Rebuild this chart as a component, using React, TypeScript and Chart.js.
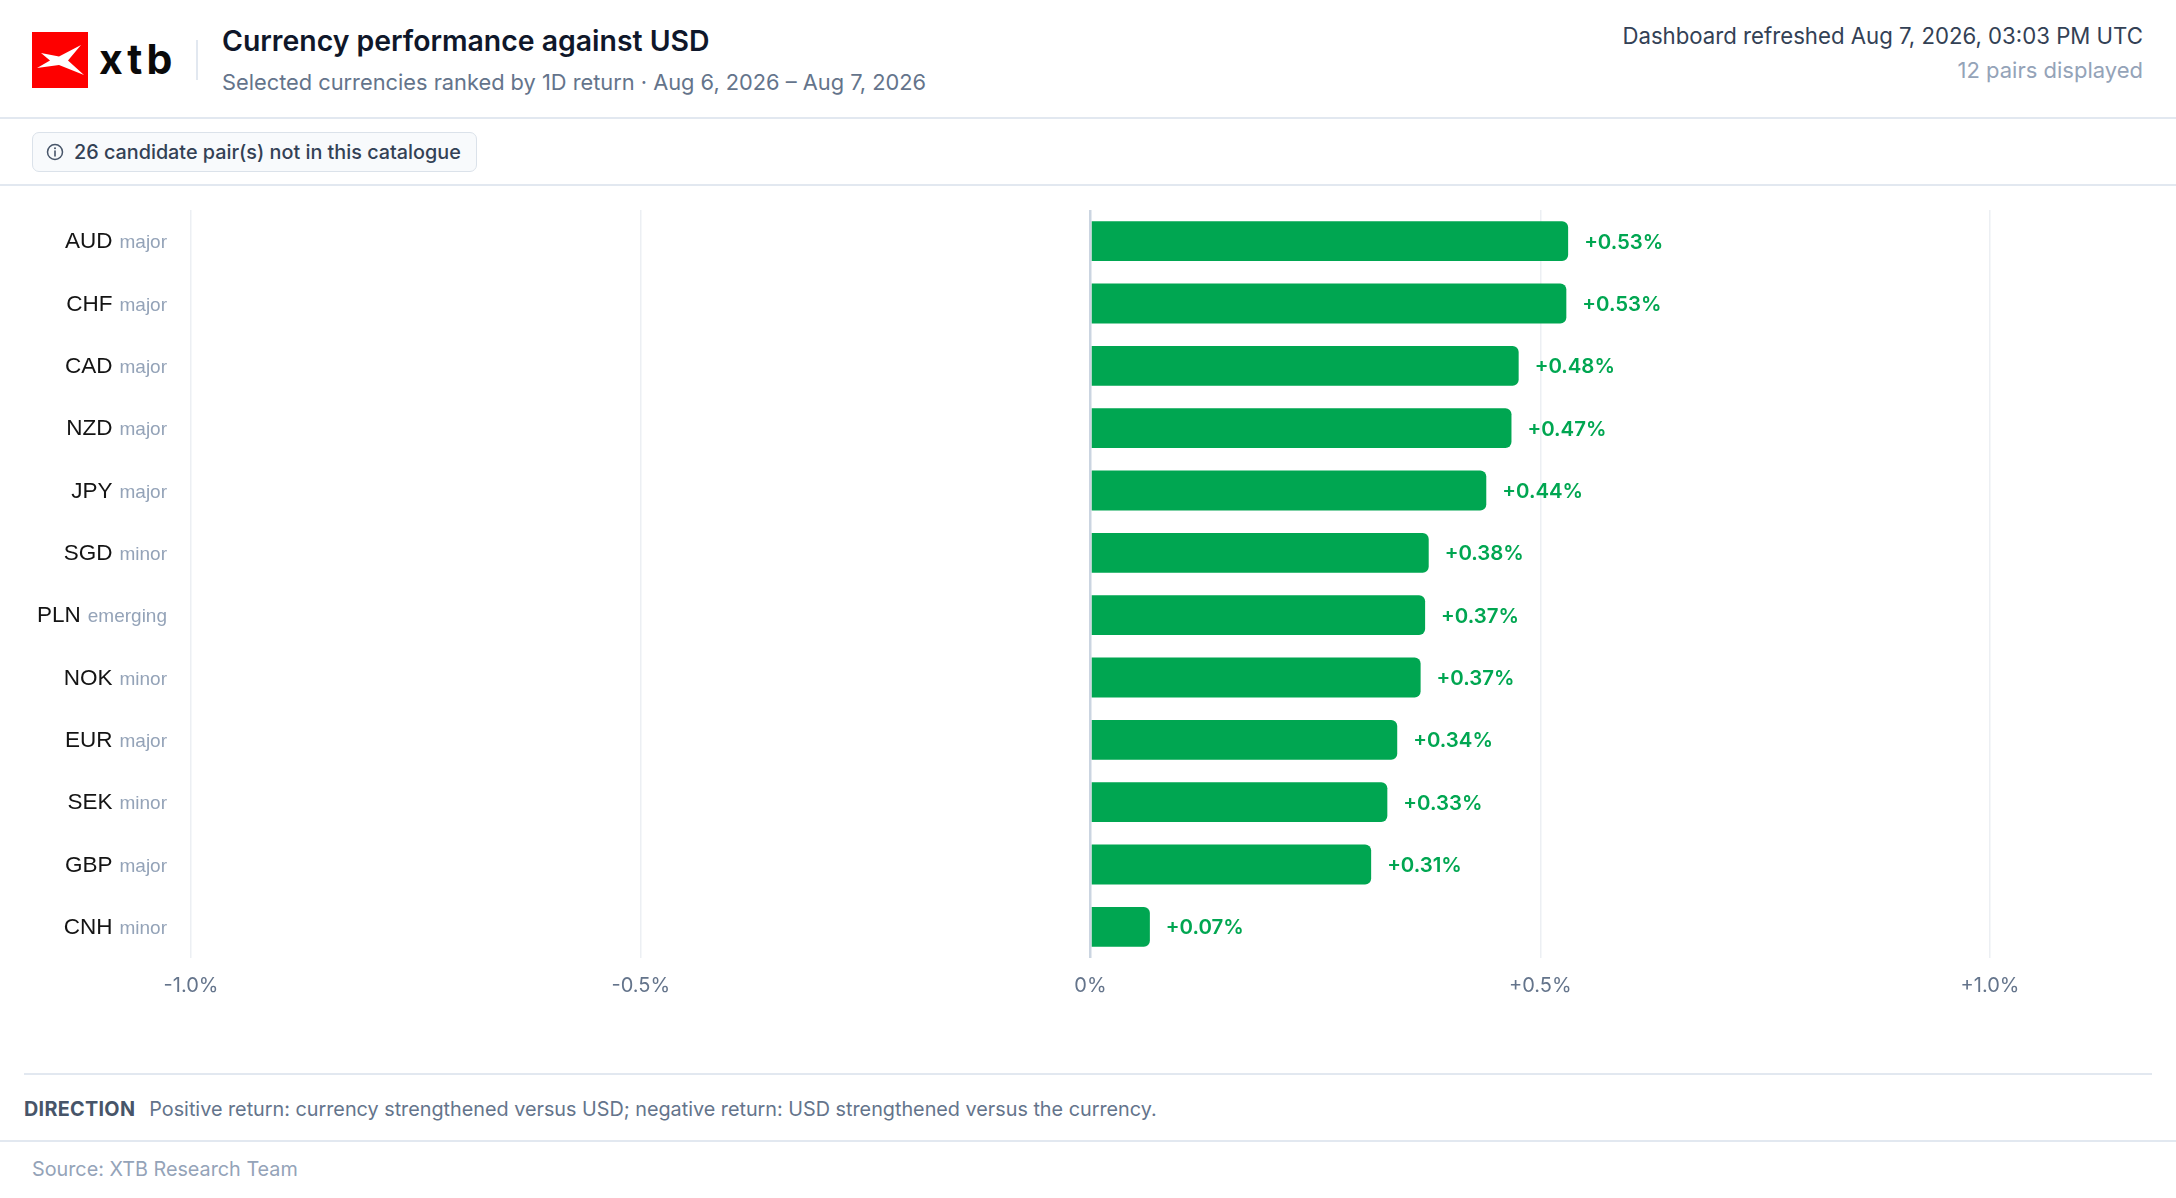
import React, { useEffect, useRef } from "react";
import { Chart, registerables } from "chart.js";

Chart.register(...registerables);

const categories = ["AUD", "CHF", "CAD", "NZD", "JPY", "SGD", "PLN", "NOK", "EUR", "SEK", "GBP", "CNH"];
const pairClasses = ["major", "major", "major", "major", "major", "minor", "emerging", "minor", "major", "minor", "major", "minor"];
const returns1D = [0.531, 0.529, 0.476, 0.468, 0.44, 0.376, 0.372, 0.367, 0.341, 0.33, 0.312, 0.066];
const xTickValues = [-1.0, -0.5, 0, 0.5, 1.0];

const GREEN = "#00a651";
const SANS = "Inter, 'Noto Sans', sans-serif";
const LABEL_FONT = "'Liberation Sans', Arial, Helvetica, sans-serif";

const fmtTick = (v: number) => (v === 0 ? "0%" : (v > 0 ? "+" : "") + v.toFixed(1) + "%");
const fmtVal = (v: number) => (v >= 0 ? "+" : "") + v.toFixed(2) + "%";

const yLabelPlugin = {
  id: "yLabels",
  afterDraw(chart: any) {
    const ctx = chart.ctx;
    const y = chart.scales.y;
    const right = 167;
    ctx.save();
    categories.forEach((code, i) => {
      const py = y.getPixelForValue(i);
      const base = py + 7;
      ctx.textBaseline = "alphabetic";
      ctx.textAlign = "right";
      ctx.font = `19px ${LABEL_FONT}`;
      ctx.fillStyle = "#94a3b8";
      ctx.fillText(pairClasses[i], right, base);
      const w = ctx.measureText(pairClasses[i]).width;
      ctx.font = `22.5px ${LABEL_FONT}`;
      ctx.fillStyle = "#141414";
      ctx.fillText(code, right - w - 7, base);
    });
    ctx.restore();
  },
};

const valueLabelPlugin = {
  id: "valueLabels",
  afterDatasetsDraw(chart: any) {
    const ctx = chart.ctx;
    const meta = chart.getDatasetMeta(0);
    ctx.save();
    ctx.font = `600 20.4px ${SANS}`;
    ctx.fillStyle = GREEN;
    ctx.textBaseline = "middle";
    ctx.textAlign = "left";
    meta.data.forEach((bar: any, i: number) => {
      ctx.fillText(fmtVal(returns1D[i]), bar.x + 16, bar.y + 1.5);
    });
    ctx.restore();
  },
};

function BarChart() {
  const ref = useRef<HTMLCanvasElement | null>(null);
  useEffect(() => {
    if (!ref.current) return;
    const chart = new Chart(ref.current, {
      type: "bar",
      data: {
        labels: categories,
        datasets: [
          {
            data: returns1D,
            backgroundColor: GREEN,
            borderRadius: 6,
            borderSkipped: "start",
            barPercentage: 0.64,
            categoryPercentage: 1,
          },
        ],
      },
      options: {
        indexAxis: "y",
        animation: false,
        responsive: true,
        maintainAspectRatio: false,
        layout: { padding: { left: 191, right: 186, top: 15, bottom: 0 } },
        plugins: { legend: { display: false }, tooltip: { enabled: false } },
        scales: {
          x: {
            type: "linear",
            min: -1,
            max: 1,
            afterBuildTicks: (s: any) => {
              s.ticks = xTickValues.map((v) => ({ value: v }));
            },
            afterFit: (s: any) => {
              s.height = 50;
            },
            grid: {
              drawTicks: false,
              color: (c: any) => (c.tick && c.tick.value === 0 ? "#cbd5e1" : "#eceff3"),
              lineWidth: (c: any) => (c.tick && c.tick.value === 0 ? 2.5 : 1.5),
            },
            border: { display: false },
            ticks: {
              padding: 16,
              color: "#64748b",
              font: { family: SANS, size: 20 },
              maxRotation: 0,
              callback: (v: any) => fmtTick(Number(v)),
            },
          },
          y: {
            type: "category",
            grid: { display: false },
            border: { display: false },
            ticks: { display: false },
            afterFit: (s: any) => {
              s.width = 0;
            },
          },
        },
      } as any,
      plugins: [yLabelPlugin, valueLabelPlugin],
    });
    return () => chart.destroy();
  }, []);
  return <canvas ref={ref} />;
}

const hLine = (top: number, left = 0, right = 0): React.CSSProperties => ({
  position: "absolute",
  top,
  left,
  right,
  height: 2,
  background: "#e2e8f0",
});

export default function App() {
  useEffect(() => {
    document.body.style.margin = "0";
    document.body.style.background = "#ffffff";
  }, []);
  return (
    <div
      style={{
        position: "relative",
        width: 2176,
        height: 1198,
        overflow: "hidden",
        background: "#ffffff",
        fontFamily: SANS,
      }}
    >
      {/* logo */}
      <div style={{ position: "absolute", left: 32, top: 32, width: 56, height: 56, background: "#fe0000" }}>
        <svg width="56" height="56" viewBox="0 0 56 56">
          <polygon points="9,21 27,24.5 49,13 36,28.5 52,43 27,33 5,36 18,28.5" fill="#ffffff" />
        </svg>
      </div>
      <div
        style={{
          position: "absolute",
          left: 99,
          top: 38.5,
          fontSize: 41,
          lineHeight: "40px",
          fontWeight: 700,
          color: "#0a0a0a",
          letterSpacing: 4,
        }}
      >
        xtb
      </div>
      <div style={{ position: "absolute", left: 196, top: 40, width: 2, height: 40, background: "#e2e8f0" }} />
      <div
        style={{
          position: "absolute",
          left: 222,
          top: 21,
          fontSize: 28.4,
          lineHeight: "40px",
          fontWeight: 600,
          color: "#0f172a",
          whiteSpace: "nowrap",
        }}
      >
        Currency performance against USD
      </div>
      <div
        style={{
          position: "absolute",
          left: 222,
          top: 67,
          fontSize: 21.8,
          lineHeight: "30px",
          color: "#64748b",
          whiteSpace: "nowrap",
        }}
      >
        Selected currencies ranked by 1D return · Aug 6, 2026 – Aug 7, 2026
      </div>
      <div
        style={{
          position: "absolute",
          right: 33,
          top: 21,
          fontSize: 22.2,
          lineHeight: "30px",
          color: "#334155",
          whiteSpace: "nowrap",
          textAlign: "right",
        }}
      >
        Dashboard refreshed Aug 7, 2026, 03:03 PM UTC
      </div>
      <div
        style={{
          position: "absolute",
          right: 33,
          top: 55,
          fontSize: 22,
          lineHeight: "30px",
          color: "#94a3b8",
          whiteSpace: "nowrap",
          textAlign: "right",
        }}
      >
        12 pairs displayed
      </div>

      <div style={hLine(117)} />

      {/* badge */}
      <div
        style={{
          position: "absolute",
          left: 32,
          top: 132,
          width: 445,
          height: 40,
          boxSizing: "border-box",
          border: "1.5px solid #dbe2ea",
          borderRadius: 7,
          background: "#f8fafc",
          display: "flex",
          alignItems: "center",
          paddingLeft: 13,
          gap: 10,
          fontSize: 19.8,
          fontWeight: 500,
          color: "#334155",
          whiteSpace: "nowrap",
        }}
      >
        <svg width="18" height="18" viewBox="0 0 18 18">
          <circle cx="9" cy="9" r="7.5" fill="none" stroke="#475569" strokeWidth="1.5" />
          <line x1="9" y1="8" x2="9" y2="13" stroke="#475569" strokeWidth="1.6" strokeLinecap="round" />
          <circle cx="9" cy="5.3" r="1" fill="#475569" />
        </svg>
        <span>26 candidate pair(s) not in this catalogue</span>
      </div>

      <div style={hLine(184)} />

      {/* chart */}
      <div style={{ position: "absolute", left: 0, top: 195, width: 2176, height: 813 }}>
        <BarChart />
      </div>

      <div style={hLine(1073, 24, 24)} />
      <div
        style={{
          position: "absolute",
          left: 24,
          top: 1094,
          fontSize: 19.8,
          lineHeight: "30px",
          whiteSpace: "nowrap",
          color: "#64748b",
        }}
      >
        <span style={{ fontWeight: 700, color: "#475569", marginRight: 14, letterSpacing: 0.3 }}>DIRECTION</span>
        Positive return: currency strengthened versus USD; negative return: USD strengthened versus the currency.
      </div>
      <div style={hLine(1140)} />
      <div
        style={{
          position: "absolute",
          left: 32,
          top: 1154,
          fontSize: 19.8,
          lineHeight: "30px",
          color: "#94a3b8",
          whiteSpace: "nowrap",
        }}
      >
        Source: XTB Research Team
      </div>
    </div>
  );
}
